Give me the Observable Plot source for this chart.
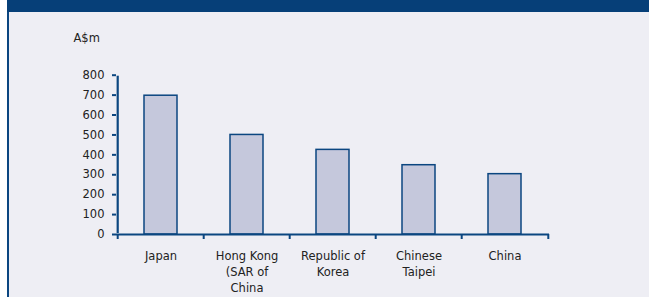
<!DOCTYPE html>
<html>
<head>
<meta charset="utf-8">
<script src="https://cdn.jsdelivr.net/npm/d3@7"></script>
<script src="https://cdn.jsdelivr.net/npm/@observablehq/plot@0.6"></script>
<style>
  html, body { margin: 0; padding: 0; background: #ffffff; }
  #frame { position: absolute; left: 7px; top: 0; width: 642px; height: 297px; background: #eeeef4; border-left: 2px solid #0b4680; box-sizing: border-box; }
  #banner { position: absolute; left: 7px; top: 0; width: 642px; height: 12px; background: #063f78; }
  #chart { position: absolute; left: 0; top: 0; }
</style>
</head>
<body>
<div id="frame"></div>
<div id="banner"></div>
<div id="chart"></div>
<script>
const categories = ["Japan", "Hong Kong\n(SAR of\nChina", "Republic of\nKorea", "Chinese\nTaipei", "China"];
const values = [697, 500, 425, 348, 303];
const yTicks = [0, 100, 200, 300, 400, 500, 600, 700, 800];
const yLabel = "A$m";

const data = categories.map((c, i) => ({category: c, value: values[i]}));

const W = 649, H = 297;
const mL = 116, mR = 100, mT = 74.7, mB = 63;
const step = (W - mL - mR) / categories.length;
const blue = "#0b4680";
const font = "DejaVu Sans, sans-serif";

const chart = Plot.plot({
  width: W,
  height: H,
  marginLeft: mL,
  marginRight: mR,
  marginTop: mT,
  marginBottom: mB,
  style: {background: "transparent", fontFamily: font, fontSize: "11px", color: "#222"},
  x: {domain: categories, paddingInner: 0.62, paddingOuter: 0.31, axis: null},
  y: {domain: [0, 800], ticks: yTicks, axis: null},
  marks: [
    Plot.barY(data, {x: "category", y: "value", fill: "#c5c8dc", stroke: blue, strokeWidth: 1.5}),
    // y axis
    Plot.axisY({ticks: yTicks, tickSize: 4, tickPadding: 8, stroke: blue, strokeWidth: 2, fill: "#222", fontSize: 11.5, label: null}),
    Plot.ruleX([0], {x: () => categories[0], y1: 0, y2: 800, dx: -step / 2, stroke: blue, strokeWidth: 2.2, insetBottom: -1, insetTop: -1}),
    // x axis line
    Plot.ruleY([0], {stroke: blue, strokeWidth: 2.2}),
    // x boundary ticks
    Plot.ruleX(categories, {x: d => d, y1: 0, y2: 0, dx: -step / 2, stroke: blue, strokeWidth: 2, insetBottom: -5}),
    Plot.ruleX([categories[categories.length - 1]], {x: d => d, y1: 0, y2: 0, dx: step / 2, stroke: blue, strokeWidth: 2, insetBottom: -5}),
    // x labels
    Plot.text(data, {x: "category", y: 0, text: "category", dy: 14, lineAnchor: "top", lineHeight: 1.4, fill: "#222", fontSize: 11.5}),
    // unit label
    Plot.text([yLabel], {frameAnchor: "top-left", text: d => d, textAnchor: "start", dx: -43, dy: -41, fill: "#222", fontSize: 11.5})
  ]
});
document.getElementById("chart").appendChild(chart);
</script>
</body>
</html>
